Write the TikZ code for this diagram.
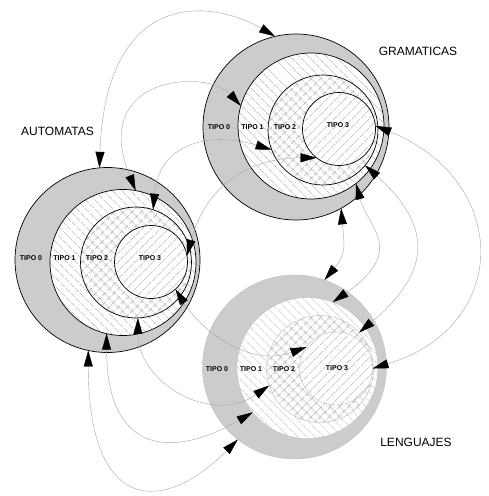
\documentclass[tikz,border=0pt]{standalone}
\usepackage{fontspec}
\setmainfont{Liberation Sans}
\usetikzlibrary{arrows.meta,patterns.meta}

\begin{document}
\begin{tikzpicture}[x=1pt,y=1pt,
    ring/.style={circle,inner sep=0pt,outer sep=0pt,draw=black,line width=0.7pt},
    ring0/.style={ring,fill=gray!40},
    ring1/.style={ring,preaction={fill=white},pattern={Lines[angle=-45,distance=6.5pt,line width=0.5pt]},pattern color=gray!65},
    ring2/.style={ring,preaction={fill=white},pattern={Hatch[angle=45,distance=6.5pt,line width=0.5pt]},pattern color=gray!65},
    ring3/.style={ring,preaction={fill=white},pattern={Lines[angle=45,distance=6.5pt,line width=0.5pt]},pattern color=gray!65},
    faint/.style={draw=gray!50,line width=0.4pt},
    tipo/.style={font=\bfseries\fontsize{7}{8}\selectfont,inner sep=0pt},
    setname/.style={font=\fontsize{12}{14}\selectfont,inner sep=0pt},
    link/.style={draw=gray!70,line width=0.4pt,>={Triangle[length=16pt,width=9pt,color=black,fill=black]},<->}]
  \useasboundingbox (0,0) rectangle (489,-496);

  \node[ring0,minimum size=185pt] (A0) at (107.5,-260) {};
  \node[ring1,minimum size=146pt] (A1) at (123,-262.5) {};
  \node[ring2,minimum size=111pt] (A2) at (136,-262.5) {};
  \node[ring3,minimum size=73pt] (A3) at (151,-262) {};

  \node[ring0,minimum size=186pt] (G0) at (296,-127) {};
  \node[ring1,minimum size=146pt] (G1) at (311,-126) {};
  \node[ring2,minimum size=110pt] (G2) at (323,-130) {};
  \node[ring3,minimum size=73pt] (G3) at (339,-129) {};

  \node[ring0,faint,minimum size=184pt] (L0) at (294.5,-367) {};
  \node[ring1,faint,minimum size=141pt] (L1) at (307.5,-368) {};
  \node[ring2,faint,minimum size=107pt] (L2) at (320,-369) {};
  \node[ring3,faint,minimum size=73pt] (L3) at (336,-368.5) {};

  \begin{scope}[link]
    \draw (A0.95) to[out=88,in=150,out distance=175pt,in distance=80pt] (G0.103);
    \draw (A1.80) to[out=112,in=132,out distance=125pt,in distance=50pt] (G1.164);
    \draw (A2.72) to[out=85,in=163,out distance=70pt,in distance=60pt] (G2.201);
    \draw (A3.10) to[out=75,in=180,out distance=70pt,in distance=70pt] (G3.232);
    \draw (G3.5) to[out=-22,in=17,out distance=146pt,in distance=146pt] (L3.0);
    \draw (G2.320) to[out=-42,in=40,out distance=93pt,in distance=93pt] (L2.43);
    \draw (G1.308) to[out=-75,in=35,out distance=46pt,in distance=91pt] (L1.69);
    \draw (G0.299) to[out=-85,in=50,out distance=35pt,in distance=35pt] (L0.71);
    \draw (A0.258) to[out=-90,in=225,out distance=160pt,in distance=110pt] (L0.232);
    \draw (A1.257) to[out=-90,in=210,out distance=115pt,in distance=100pt] (L1.219);
    \draw (A2.272) to[out=-90,in=215,out distance=65pt,in distance=70pt] (L2.198);
    \draw (A3.312) to[out=-58,in=200,out distance=50pt,in distance=60pt] (L3.144);
  \end{scope}

  \node[tipo] (a0) at (31,-258) {TIPO 0};
  \node[tipo] (a1) at (64.5,-258) {TIPO 1};
  \node[tipo] (a2) at (97,-258) {TIPO 2};
  \node[tipo] (a3) at (150,-258) {TIPO 3};
  \node[tipo] (g0) at (219,-127) {TIPO 0};
  \node[tipo] (g1) at (252.5,-127) {TIPO 1};
  \node[tipo] (g2) at (285,-127) {TIPO 2};
  \node[tipo] (g3) at (338,-125) {TIPO 3};
  \node[tipo] (l0) at (217,-369) {TIPO 0};
  \node[tipo] (l1) at (251,-369) {TIPO 1};
  \node[tipo] (l2) at (284,-369) {TIPO 2};
  \node[tipo] (l3) at (337,-368) {TIPO 3};

  \node[setname] (automatas) at (57.5,-131) {AUTOMATAS};
  \node[setname] (gramaticas) at (418,-51) {GRAMATICAS};
  \node[setname] (lenguajes) at (416,-442) {LENGUAJES};
\end{tikzpicture}
\end{document}
